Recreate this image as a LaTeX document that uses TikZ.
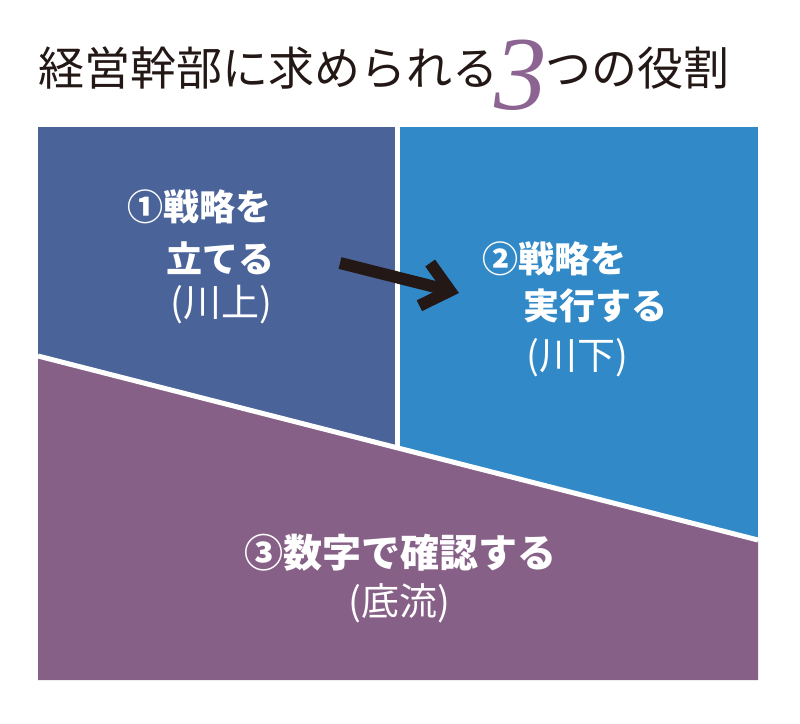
\documentclass[tikz,border=0pt]{standalone}
\usepackage{fontspec}
\usepackage{tikz}
\usetikzlibrary{arrows.meta}
\newfontfamily\jpfont{Noto Sans CJK JP}
\newfontfamily\numfont{Liberation Serif}
\definecolor{ink}{HTML}{231815}
\definecolor{upstream}{HTML}{4A6399}
\definecolor{downstream}{HTML}{3289C8}
\definecolor{undercurrent}{HTML}{876087}
\definecolor{accent}{HTML}{8C6491}
\tikzstyle{title} = [text=ink, inner sep=0pt, font=\jpfont\fontsize{46}{46}\selectfont]
\tikzstyle{lead} = [text=white, inner sep=0pt, font=\jpfont\bfseries\fontsize{36}{36}\selectfont]
\tikzstyle{biglead} = [text=white, inner sep=0pt, font=\jpfont\bfseries\fontsize{39}{39}\selectfont]
\tikzstyle{note} = [text=white, inner sep=0pt, font=\jpfont\fontsize{38}{38}\selectfont]
\tikzstyle{split} = [draw=white, line width=5pt]
\tikzstyle{flow} = [draw=ink, line width=12pt, -{Straight Barb[length=26pt,width=44pt]}]

\begin{document}
\begin{tikzpicture}[x=1pt,y=-1pt]
\useasboundingbox (0,0) rectangle (800,723);

% Panels
	\fill [upstream]     (38,127) rectangle (398,470);
	\fill [downstream]   (398,127) rectangle (758,560);
	\fill [undercurrent] (38,356) -- (758,540) -- (758,680) -- (38,680) -- cycle;
	\draw [split] (397.5,127) -- (397.5,448);
	\draw [split] (38,356) -- (758,540);

% Place nodes
	\node [title, anchor=west] (head1) at (38,68) {経営幹部に求められる};
	\node [text=accent, inner sep=0pt, anchor=base, font=\numfont\itshape\fontsize{105}{105}\selectfont] (three) at (521,109) {3};
	\node [title, anchor=west] (head2) at (545,68) {つの役割};

	\node [lead] (plan1) at (199,207) {①戦略を};
	\node [lead] (plan2) at (220,258) {立てる};
	\node [note] (plan3) at (221,305) {(川上)};

	\node [lead] (do1) at (554,259) {②戦略を};
	\node [lead] (do2) at (595,306) {実行する};
	\node [note] (do3) at (577,358) {(川下)};

	\node [biglead] (check1) at (400,553) {③数字で確認する};
	\node [note] (check2) at (399,603) {(底流)};

	\coordinate (tail) at (340,263);
	\coordinate (tip)  at (459,293);

% Draw edges
	\path [flow] (tail) -- (tip);

\end{tikzpicture}
\end{document}
